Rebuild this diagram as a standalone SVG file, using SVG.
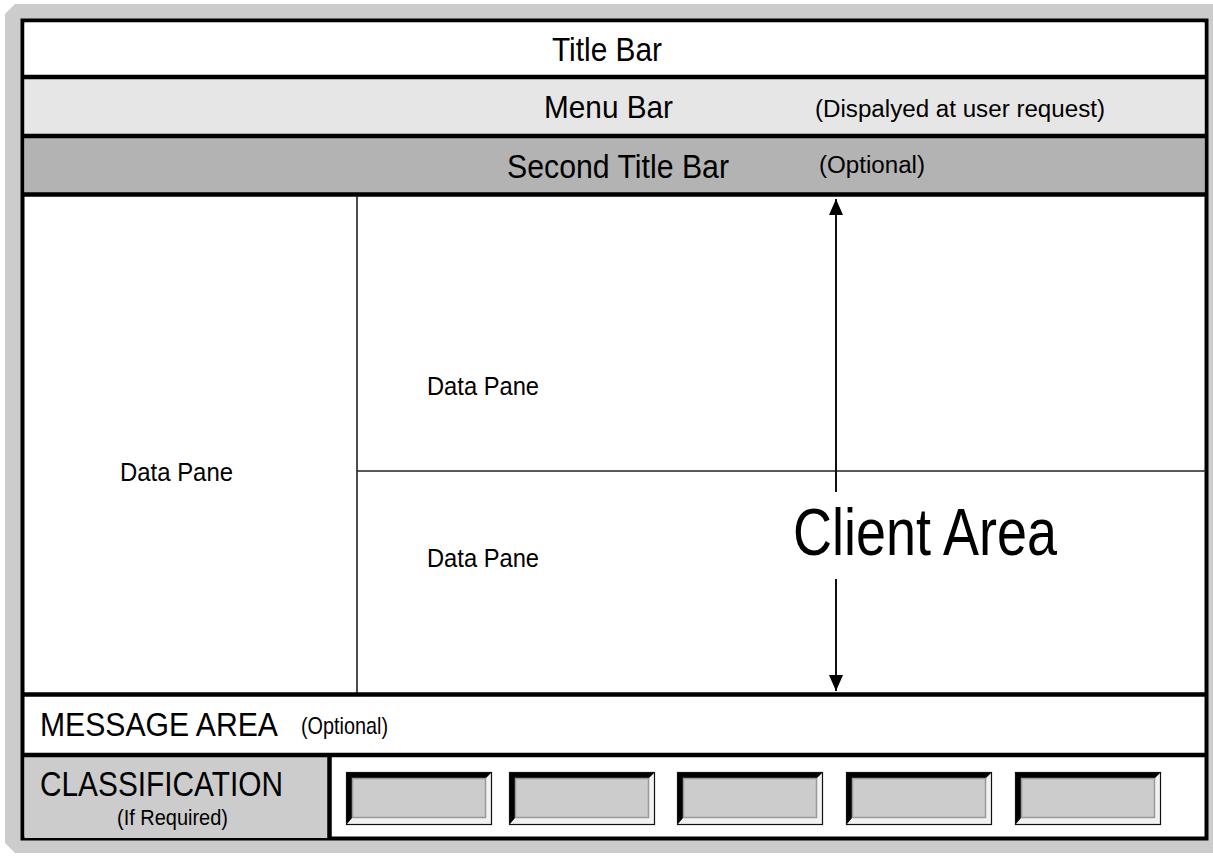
<svg xmlns="http://www.w3.org/2000/svg" width="1213" height="860" viewBox="0 0 1213 860">
<style>
.t{font-family:"Liberation Sans",Arial,sans-serif;fill:#000}
.sep{stroke:#000;stroke-width:4.5}
.thin{stroke:#222;stroke-width:1.6}
.btnInner{fill:#cccccc;stroke:#999;stroke-width:1.5}
</style>
<defs>
<marker id="ah" markerWidth="16" markerHeight="14" refX="16" refY="7" orient="auto" markerUnits="userSpaceOnUse" viewBox="0 0 16 14">
<path d="M0,0 L16,7 L0,14 Z" fill="#000"/>
</marker>
<g id="btn">
<rect x="0" y="0" width="146" height="53" fill="#000"/>
<polygon points="146,0 146,53 0,53 6,46 140,46 140,6" fill="#f2f2f2"/>
<rect x="0.5" y="0.5" width="145" height="52" fill="none" stroke="#111" stroke-width="1.2"/>
<rect x="6.5" y="6.5" width="133" height="39" class="btnInner"/>
</g>
</defs>
<rect width="1213" height="860" fill="#fff"/>
<path id="frame" d="M15,4 L1213,4 L1213,853 L15,853 L5,843 L5,14 Z" fill="#cccccc"/>
<g id="window">
<rect x="22.5" y="20.5" width="1184" height="818" fill="#fff" stroke="#000" stroke-width="4"/>
</g>
<g id="title-bar">
<rect x="24.5" y="22.5" width="1180" height="54" fill="#fff"/>
<text class="t" x="552" y="61" font-size="34" textLength="110" lengthAdjust="spacingAndGlyphs">Title Bar</text>
</g>
<g id="menu-bar">
<rect x="24.5" y="78" width="1180" height="57" fill="#e6e6e6"/>
<line class="sep" x1="22.5" y1="77" x2="1206.5" y2="77"/>
<text class="t" x="544" y="118" font-size="32" textLength="129" lengthAdjust="spacingAndGlyphs">Menu Bar</text>
<text class="t" x="815" y="117" font-size="23" textLength="290" lengthAdjust="spacingAndGlyphs">(Dispalyed at user request)</text>
</g>
<g id="second-title-bar">
<rect x="24.5" y="137" width="1180" height="57" fill="#b3b3b3"/>
<line class="sep" x1="22.5" y1="136" x2="1206.5" y2="136"/>
<text class="t" x="507" y="178" font-size="33" textLength="222" lengthAdjust="spacingAndGlyphs">Second Title Bar</text>
<text class="t" x="819" y="173" font-size="23" textLength="106" lengthAdjust="spacingAndGlyphs">(Optional)</text>
</g>
<g id="client-area">
<line class="sep" x1="22.5" y1="194.5" x2="1206.5" y2="194.5"/>
<text class="t" x="793" y="555" font-size="66" textLength="264" lengthAdjust="spacingAndGlyphs">Client Area</text>
</g>
<g id="data-pane-left">
<line class="thin" x1="357" y1="196" x2="357" y2="693"/>
<text class="t" x="120" y="481" font-size="25" textLength="113" lengthAdjust="spacingAndGlyphs">Data Pane</text>
</g>
<g id="data-pane-top">
<line class="thin" x1="357" y1="471" x2="1206" y2="471"/>
<text class="t" x="427" y="395" font-size="25" textLength="112" lengthAdjust="spacingAndGlyphs">Data Pane</text>
</g>
<g id="data-pane-bottom">
<text class="t" x="427" y="567" font-size="25" textLength="112" lengthAdjust="spacingAndGlyphs">Data Pane</text>
</g>
<g id="message-area">
<line class="sep" x1="22.5" y1="694.5" x2="1206.5" y2="694.5"/>
<text class="t" x="40" y="736" font-size="33" textLength="238" lengthAdjust="spacingAndGlyphs">MESSAGE AREA</text>
<text class="t" x="301" y="734" font-size="24" textLength="87" lengthAdjust="spacingAndGlyphs">(Optional)</text>
</g>
<g id="classification">
<rect x="24.5" y="757" width="305" height="81" fill="#cccccc"/>
<line class="sep" x1="22.5" y1="755" x2="1206.5" y2="755"/>
<line class="sep" x1="329.5" y1="755" x2="329.5" y2="840"/>
<text class="t" x="40" y="796" font-size="35" textLength="243" lengthAdjust="spacingAndGlyphs">CLASSIFICATION</text>
<text class="t" x="117" y="825" font-size="22" textLength="111" lengthAdjust="spacingAndGlyphs">(If Required)</text>
</g>
<g id="button-1"><use href="#btn" x="346" y="772"/></g>
<g id="button-2"><use href="#btn" x="509" y="772"/></g>
<g id="button-3"><use href="#btn" x="677" y="772"/></g>
<g id="button-4"><use href="#btn" x="846" y="772"/></g>
<g id="button-5"><use href="#btn" x="1015" y="772"/></g>
<g id="connectors" stroke="#111" stroke-width="2" fill="none">
<line x1="836" y1="492" x2="836" y2="199" marker-end="url(#ah)"/>
<line x1="836" y1="579" x2="836" y2="691" marker-end="url(#ah)"/>
</g>
</svg>
